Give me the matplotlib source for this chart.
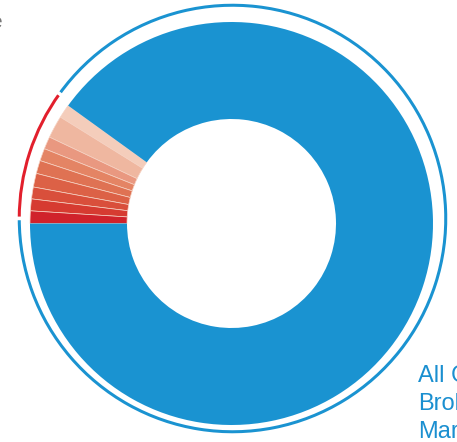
import matplotlib
matplotlib.use('Agg')
import matplotlib.pyplot as plt

# 数据：红色小份额（从浅到深，逆时针），最后是蓝色主份额
small_labels = ['s9', 's8', 's7', 's6', 's5', 's4', 's3', 's2', 's1']
small_values = [1.1, 1.8, 1.0, 1.0, 1.05, 1.1, 0.95, 0.95, 1.0]
small_colors = ['#f4cdbb', '#efb7a0', '#e99880', '#e48464', '#df7253',
                '#dc6146', '#d94f3b', '#d63b31', '#d0222b']
main_value = 100 - sum(small_values)
legend_lines = ['All Other', 'Brokers', 'Market']

BLUE = '#1a93d1'
RED = '#e21f2c'

plt.rcParams['font.family'] = ['Liberation Sans', 'DejaVu Sans']

fig = plt.figure(figsize=(4.57, 4.42), dpi=100)
ax = fig.add_axes([0, 0, 1, 1])

values = small_values + [main_value]
colors = small_colors + [BLUE]
start = 180 - sum(small_values) * 3.6

# 主环形图
wedges, _ = ax.pie(values, colors=colors, startangle=start, counterclock=True,
                   radius=201.5, center=(231.5, 218.5),
                   wedgeprops=dict(width=97, linewidth=0))
for w in wedges[:-1]:
    w.set_edgecolor('#f6d3c4')
    w.set_linewidth(0.5)

# 外圈细线
ring, _ = ax.pie([sum(small_values), main_value], colors=[RED, BLUE],
                 startangle=start, counterclock=True,
                 radius=216.5, center=(232.5, 223.5),
                 wedgeprops=dict(width=6.5, edgecolor='white', linewidth=2.5))

ax.set_xlim(0, 457)
ax.set_ylim(0, 442)
ax.set_aspect('equal')
ax.axis('off')

# 右下角文字（被裁剪）
for i, line in enumerate(legend_lines):
    ax.text(418, 60 - i * 28, line, color='#1a8fd0', fontsize=17,
            ha='left', va='baseline')

# 左上角残留文字（只露出一点）
ax.text(2, 420, 'e', color='#777777', fontsize=15, ha='right', va='center')

fig.savefig('out.png', dpi=100)
plt.close(fig)
